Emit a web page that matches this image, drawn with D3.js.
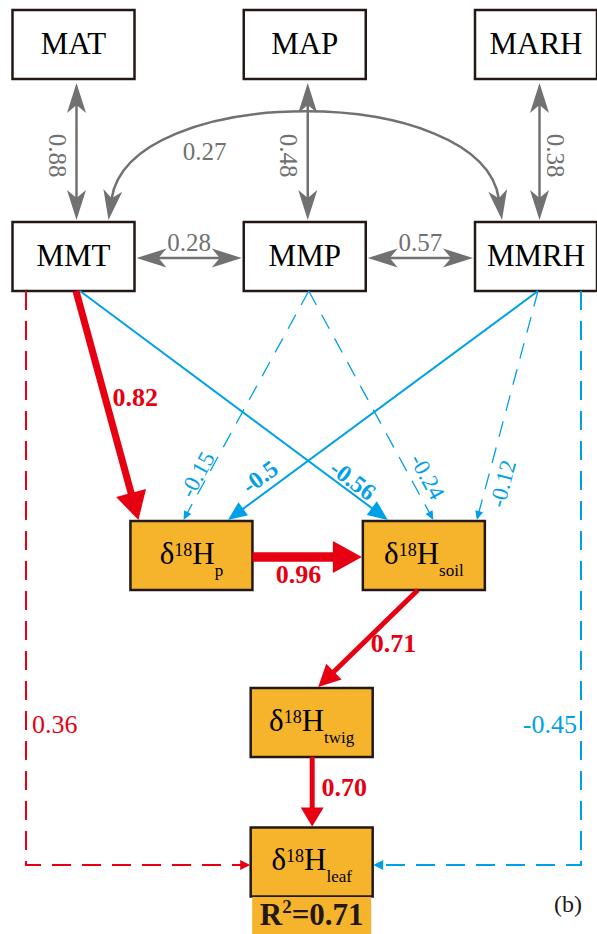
<!DOCTYPE html>
<html lang="en">
<head>
<meta charset="UTF-8">
<title>Path model of δ18H</title>
<script src="https://d3js.org/d3.v7.min.js"></script>
<style>
    body, html { margin: 0; padding: 0; background: #fff; overflow: hidden; }
    svg text { font-family: "Liberation Serif", "Times New Roman", serif; }
</style>
</head>
<body>
<svg id="chart" width="597" height="934"></svg>
<script>
// --- data ---
var nodeNames = ["MAT", "MAP", "MARH", "MMT", "MMP", "MMRH", "Hp", "Hsoil", "Htwig", "Hleaf"];
var nodeMain = ["MAT", "MAP", "MARH", "MMT", "MMP", "MMRH", "H", "H", "H", "H"];
var nodeSub = ["", "", "", "", "", "", "p", "soil", "twig", "leaf"];

var pathFrom = ["MAT", "MAP", "MARH", "MMT", "MMT", "MMP",
    "MMT", "MMT", "MMP", "MMP", "MMRH", "MMRH",
    "Hp", "Hsoil", "Htwig", "MMT", "MMRH"];
var pathTo = ["MMT", "MMP", "MMRH", "MMRH", "MMP", "MMRH",
    "Hp", "Hsoil", "Hp", "Hsoil", "Hp", "Hsoil",
    "Hsoil", "Htwig", "Hleaf", "Hleaf", "Hleaf"];
var pathCoef = ["0.88", "0.48", "0.38", "0.27", "0.28", "0.57",
    "0.82", "-0.56", "-0.15", "-0.24", "-0.5", "-0.12",
    "0.96", "0.71", "0.70", "0.36", "-0.45"];
// cor = correlation (two heads), sig = significant path, ns = not significant
var pathKind = ["cor", "cor", "cor", "cor", "cor", "cor",
    "sig", "sig", "ns", "ns", "sig", "ns",
    "sig", "sig", "sig", "ns", "ns"];
var r2Leaf = "0.71";
var panelTag = "(b)";

// --- layout (not data) ---
var W = 597, H = 934, boxW = 122, boxH = 69;
var col = d3.scaleLinear().domain([0, 2]).range([73.5, 536]);
var rowY = d3.scaleOrdinal().domain([0, 1, 2, 3, 4]).range([44.5, 256.5, 555.5, 722.5, 862]);
var nodeCol = [0, 1, 2, 0, 1, 2, 0.51, 1.515, 1.03, 1.03];
var nodeRow = [0, 0, 0, 1, 1, 1, 2, 2, 3, 4];

// [fromSide, fromOffset, toSide, toOffset]
var edgeAnchor = [
    ["b", 3, "t", 3], ["b", 3, "t", 3], ["b", 3.5, "t", 3.5],
    ["t", 35, "t", -34], ["r", 1.5, "l", 1.5], ["r", 1.5, "l", 1.5],
    ["b", 2.5, "t", -53], ["b", 6.5, "t", -36], ["b", 4, "t", -8],
    ["b", 4, "t", 9.5], ["b", 2, "t", 36.5], ["b", 2, "t", 53],
    ["r", 1.5, "l", 1.5], ["b", -6, "t", 6.5], ["b", 0.5, "t", 0.5],
    ["b", -47.5, "l", 3], ["b", 45, "r", 3]
];
// [strokeWidth, headLength, headWidth, fontSize]
var edgeStyle = [
    [2.5, 30, 19, 25], [2.5, 30, 19, 25], [2.5, 30, 19, 25],
    [2.5, 30, 19, 25], [2.5, 30, 19, 25], [2.5, 30, 19, 25],
    [7, 28, 31, 26], [2, 20, 17, 24], [1.3, 9, 8, 23],
    [1.3, 9, 8, 23], [2, 19, 16, 24], [1.3, 9, 8, 23],
    [9.5, 29, 32, 26], [5, 22, 22, 26], [5, 19, 23, 26],
    [2, 10, 10, 26], [2, 10, 10, 26]
];
// [t along edge, normal offset, rotate along line, text-anchor]
var edgeLabel = [
    [0.53, 19.5, 1, "middle"], [0.53, 19.5, 1, "middle"], [0.53, -15.5, 1, "middle"],
    [0.3, 19.5, 0, "middle"], [0.5, -15.5, 0, "middle"], [0.5, -15.5, 0, "middle"],
    [0.5, -29, 0, "middle"], [0.865, -11, 1, "middle"], [0.822, 9.6, 1, "middle"],
    [0.843, -15.3, 1, "middle"], [0.867, 15.6, 1, "middle"], [0.824, -15.8, 1, "middle"],
    [0.42, 17, 0, "middle"], [0.395, -21.4, 0, "middle"], [0.44, -32, 0, "middle"],
    [0.756, -6, 0, "start"], [0.756, 4, 0, "end"]
];

var GREY = "#717171", RED = "#e60012", BLUE = "#00a0e9", ORANGE = "#f6b42c", INK = "#231815";

var svg = d3.select("#chart");

var boxes = nodeNames.map(function (n, i) {
    return { id: n, cx: col(nodeCol[i]), cy: rowY(nodeRow[i]), main: nodeMain[i], sub: nodeSub[i] };
});
var byId = {};
boxes.forEach(function (b) { byId[b.id] = b; });

function anchor(b, side, off, gap) {
    if (side === "b") return [b.cx + off, b.cy + boxH / 2 + gap];
    if (side === "t") return [b.cx + off, b.cy - boxH / 2 - gap];
    if (side === "l") return [b.cx - boxW / 2 - gap, b.cy + off];
    return [b.cx + boxW / 2 + gap, b.cy + off];
}

function head(g, tip, ang, len, wid, notch, color) {
    var pts = [[0, 0], [-len, -wid / 2], [-len + notch, 0], [-len, wid / 2]];
    g.append("path")
        .attr("d", d3.line()(pts) + "Z")
        .attr("transform", "translate(" + tip[0] + "," + tip[1] + ") rotate(" + ang + ")")
        .attr("fill", color);
}

function cubic(p0, p1, p2, p3, t) {
    var u = 1 - t;
    return [
        u * u * u * p0[0] + 3 * u * u * t * p1[0] + 3 * u * t * t * p2[0] + t * t * t * p3[0],
        u * u * u * p0[1] + 3 * u * u * t * p1[1] + 3 * u * t * t * p2[1] + t * t * t * p3[1]
    ];
}

// boxes
var gBox = svg.append("g");
boxes.forEach(function (b) {
    gBox.append("rect")
        .attr("x", b.cx - boxW / 2).attr("y", b.cy - boxH / 2)
        .attr("width", boxW).attr("height", boxH)
        .attr("fill", b.sub ? ORANGE : "#fff")
        .attr("stroke", INK).attr("stroke-width", 2.5);
    var t = gBox.append("text")
        .attr("x", b.cx).attr("text-anchor", "middle")
        .attr("fill", "#000");
    if (!b.sub) {
        t.attr("y", b.cy + 9).attr("font-size", 31).text(b.main);
    } else {
        t.attr("y", b.cy + 8);
        t.append("tspan").attr("font-size", 31).text("δ");
        t.append("tspan").attr("font-size", 18).attr("dy", -8).text("18");
        t.append("tspan").attr("font-size", 31).attr("dy", 8).text(b.main);
        t.append("tspan").attr("font-size", 17).attr("dy", 12).text(b.sub);
    }
});

// R2 under the leaf box
var leaf = byId["Hleaf"];
svg.append("rect")
    .attr("x", leaf.cx - 59.5).attr("y", leaf.cy + boxH / 2 + 0.5)
    .attr("width", 119).attr("height", H - (leaf.cy + boxH / 2))
    .attr("fill", ORANGE);
var r2 = svg.append("text")
    .attr("x", leaf.cx).attr("y", leaf.cy + 63)
    .attr("text-anchor", "middle").attr("font-weight", "bold").attr("fill", INK);
r2.append("tspan").attr("font-size", 31).text("R");
r2.append("tspan").attr("font-size", 19).attr("dy", -12).text("2");
r2.append("tspan").attr("font-size", 31).attr("dy", 12).text("=" + r2Leaf);

// edges
var gEdge = svg.append("g");
pathCoef.forEach(function (lab, i) {
    var kind = pathKind[i], v = +lab;
    var a = edgeAnchor[i], st = edgeStyle[i], lb = edgeLabel[i];
    var from = byId[pathFrom[i]], to = byId[pathTo[i]];
    var color = kind === "cor" ? GREY : (v > 0 ? RED : BLUE);
    var routed = (pathTo[i] === "Hleaf" && kind === "ns");
    var curved = (kind === "cor" && pathFrom[i] === "MMT" && pathTo[i] === "MMRH");
    var gapS = kind === "cor" ? (a[0] === "b" ? 4 : 2) : 0;
    var gapE = kind === "cor" ? 2 : (routed ? 0.5 : 1);
    var p0 = anchor(from, a[0], a[1], gapS), p1 = anchor(to, a[2], a[3], gapE);
    var dash = kind === "ns" ? (routed ? "19,11" : "16,11") : null;
    var notch = kind === "cor" ? 8 : 0;
    var back = kind === "cor" ? st[1] - notch - 1 : st[1] * 0.6;
    var lp, rot = 0;

    if (curved) {
        var c1 = [p0[0] + 20, 82], c2 = [p1[0] - 20, 82];
        var u0 = [p0[0] - c1[0], p0[1] - c1[1]], u1 = [p1[0] - c2[0], p1[1] - c2[1]];
        var l0 = Math.hypot(u0[0], u0[1]), l1 = Math.hypot(u1[0], u1[1]);
        var s0 = [p0[0] - u0[0] / l0 * back, p0[1] - u0[1] / l0 * back];
        var s1 = [p1[0] - u1[0] / l1 * back, p1[1] - u1[1] / l1 * back];
        var pth = d3.path();
        pth.moveTo(s0[0], s0[1]);
        pth.bezierCurveTo(c1[0], c1[1], c2[0], c2[1], s1[0], s1[1]);
        gEdge.append("path").attr("d", pth.toString()).attr("fill", "none")
            .attr("stroke", color).attr("stroke-width", st[0]);
        head(gEdge, p0, Math.atan2(u0[1], u0[0]) * 180 / Math.PI, st[1], st[2], notch, color);
        head(gEdge, p1, Math.atan2(u1[1], u1[0]) * 180 / Math.PI, st[1], st[2], notch, color);
        var q = cubic(p0, c1, c2, p1, lb[0]), q2 = cubic(p0, c1, c2, p1, lb[0] + 0.01);
        var dx = q2[0] - q[0], dy = q2[1] - q[1], dl = Math.hypot(dx, dy);
        lp = [q[0] - dy / dl * lb[1], q[1] + dx / dl * lb[1]];
    } else {
        var pts = routed ? [p0, [p0[0], p1[1]], p1] : [p0, p1];
        var n = pts.length;
        var ex = pts[n - 1][0] - pts[n - 2][0], ey = pts[n - 1][1] - pts[n - 2][1];
        var el = Math.hypot(ex, ey);
        var draw = pts.map(function (p) { return p.slice(); });
        draw[n - 1] = [p1[0] - ex / el * back, p1[1] - ey / el * back];
        if (kind === "cor") {
            draw[0] = [p0[0] + ex / el * back, p0[1] + ey / el * back];
        }
        gEdge.append("path").attr("d", d3.line()(draw)).attr("fill", "none")
            .attr("stroke", color).attr("stroke-width", st[0])
            .attr("stroke-dasharray", dash);
        var ang = Math.atan2(ey, ex) * 180 / Math.PI;
        head(gEdge, p1, ang, st[1], st[2], notch, color);
        if (kind === "cor") head(gEdge, p0, ang + 180, st[1], st[2], notch, color);
        // label on the first segment
        var fx = pts[1][0] - pts[0][0], fy = pts[1][1] - pts[0][1], fl = Math.hypot(fx, fy);
        var base = [pts[0][0] + fx * lb[0], pts[0][1] + fy * lb[0]];
        lp = [base[0] - fy / fl * lb[1], base[1] + fx / fl * lb[1]];
        if (lb[2]) {
            rot = Math.atan2(fy, fx) * 180 / Math.PI;
            if (rot > 90) rot -= 180;
            if (rot < -90) rot += 180;
        }
    }

    gEdge.append("text")
        .attr("transform", "translate(" + lp[0] + "," + lp[1] + ") rotate(" + rot + ")")
        .attr("text-anchor", lb[3])
        .attr("dominant-baseline", "central")
        .attr("font-size", st[3])
        .attr("font-weight", kind === "sig" ? "bold" : "normal")
        .attr("fill", color)
        .text(lab);
});

svg.append("text")
    .attr("x", 554).attr("y", 912)
    .attr("font-size", 24).attr("fill", INK)
    .text(panelTag);
</script>
</body>
</html>
